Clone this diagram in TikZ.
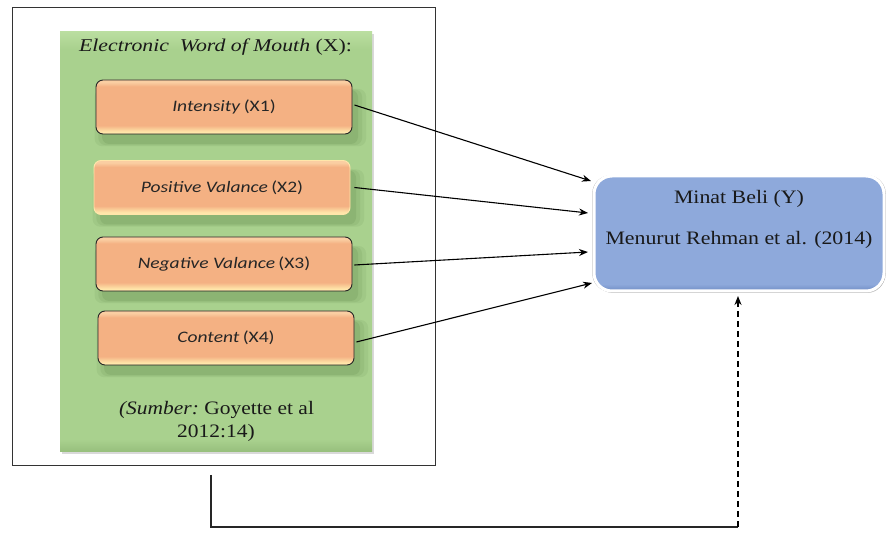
\documentclass[tikz,border=0pt]{standalone}
\usepackage{fontspec}
\setmainfont{Liberation Serif}
\newfontfamily\califont{Carlito}
\usetikzlibrary{arrows.meta,shadows,calc}
\definecolor{grmain}{RGB}{169,209,142}
\definecolor{grlight}{RGB}{186,222,160}
\definecolor{grdark}{RGB}{100,140,78}
\definecolor{grbot}{RGB}{150,190,124}
\definecolor{ormain}{RGB}{244,177,131}
\definecolor{ortop}{RGB}{250,206,162}
\definecolor{orbot}{RGB}{255,230,170}
\definecolor{blmain}{RGB}{142,169,219}
\definecolor{bldark}{RGB}{112,140,196}
\pgfdeclareverticalshading{orbevel}{100bp}{color(0bp)=(orbot); color(27bp)=(orbot); color(33bp)=(ormain); color(69bp)=(ormain); color(73bp)=(ortop); color(100bp)=(ortop)}
\pgfdeclareverticalshading{grbevel}{100bp}{color(0bp)=(grbot); color(25bp)=(grbot); color(26.5bp)=(grmain); color(73bp)=(grmain); color(75bp)=(grlight); color(100bp)=(grlight)}
\pgfdeclareverticalshading{blbevel}{100bp}{color(0bp)=(bldark); color(25bp)=(bldark); color(28bp)=(blmain); color(100bp)=(blmain)}
\newcommand{\hx}[2][1.2]{\scalebox{#1}[1]{#2}}
\tikzset{
  frameline/.style={draw=black!80, line width=1pt},
  greenbox/.style={shading=grbevel, draw=none, minimum width=312pt, minimum height=420pt, inner sep=0pt,
    drop shadow={shadow xshift=2pt, shadow yshift=-2pt, fill=black, opacity=0.15}},
  softshadow/.style={
    drop shadow={shadow xshift=6pt, shadow yshift=-10pt, shadow scale=1.06, fill=grdark, opacity=0.12},
    drop shadow={shadow xshift=6pt, shadow yshift=-10pt, shadow scale=1.03, fill=grdark, opacity=0.15},
    drop shadow={shadow xshift=6pt, shadow yshift=-10pt, fill=grdark, opacity=0.2}},
  orbox/.style={rounded corners=7pt, draw=black!85, line width=0.9pt, shading=orbevel,
    minimum width=256pt, minimum height=54pt, inner sep=0pt,
    font=\califont\fontsize{16}{19}\selectfont, text=black!85, softshadow},
  bluebox/.style={rounded corners=18pt, draw=white, line width=3pt, shading=blbevel,
    minimum width=290pt, minimum height=115pt, inner sep=0pt,
    drop shadow={shadow xshift=0pt, shadow yshift=0pt, shadow scale=1.012, fill=black, opacity=0.3},
    drop shadow={shadow xshift=1pt, shadow yshift=-2pt, fill=black, opacity=0.25}},
  serif/.style={font=\fontsize{18}{22}\selectfont, text=black!90, inner sep=0pt},
  conn/.style={draw=black, line width=1.1pt, -{Stealth[length=9pt,width=7pt]}},
  bracket/.style={draw=black!85, line width=1.1pt},
  dashconn/.style={draw=black, line width=1.6pt, dash pattern=on 6pt off 4pt, -{Stealth[length=9pt,width=7pt]}}
}
\begin{document}
\begin{tikzpicture}[x=1pt,y=-1pt]
\useasboundingbox[fill=white] (0,0) rectangle (887,534);
% outer frame
\node[frameline, minimum width=423pt, minimum height=458pt, inner sep=0pt] (frame) at (223.5,237) {};
% green container
\node[greenbox] (grn) at (216,242) {};
\node[serif] (title) at (215.5,47) {\hx[1.21]{\textit{Electronic\ \ Word of Mouth} (X):}};
% orange boxes
\node[orbox] (o1) at (224,107) {\hx[1.22]{\textit{Intensity}\,(X1)}};
\node[orbox, draw=orbot] (o2) at (222,187.5) {\hx[1.22]{\textit{Positive Valance}\,(X2)}};
\node[orbox] (o3) at (224,264) {\hx[1.22]{\textit{Negative Valance}\,(X3)}};
\node[orbox] (o4) at (226,338) {\hx[1.22]{\textit{Content}\,(X4)}};
% source
\node[serif, font=\fontsize{19}{23}\selectfont] (src1) at (216.5,410) {\hx[1.13]{\textit{(Sumber:}\ Goyette et al}};
\node[serif, font=\fontsize{19}{23}\selectfont] (src2) at (216,433) {\hx[1.13]{2012:14)}};
% blue box
\node[bluebox] (Y) at (739,233.5) {};
\node[serif, font=\fontsize{19}{23}\selectfont] (y1) at (739,199) {\hx[1.15]{Minat Beli (Y)}};
\node[serif, font=\fontsize{19}{23}\selectfont] (y2) at (739,240) {\hx[1.15]{Menurut Rehman et al. (2014)}};
% arrow targets on the blue box
\coordinate (e1) at (591,181);
\coordinate (e2) at (588,213);
\coordinate (e3) at (588,252);
\coordinate (e4) at (592,283);
\draw[conn] ($(o1.east)+(2,-2)$) -- (e1);
\draw[conn] ($(o2.east)+(4,0)$) -- (e2);
\draw[conn] ($(o3.east)+(2,1)$) -- (e3);
\draw[conn] ($(o4.east)+(2,4)$) -- (e4);
% feedback bracket
\coordinate (b0) at (211,475);
\coordinate (b1) at (738,527);
\coordinate (yb) at (738,296);
\draw[bracket] (b0) |- (b1);
\draw[dashconn] (b1) -- (yb);
\end{tikzpicture}
\end{document}
